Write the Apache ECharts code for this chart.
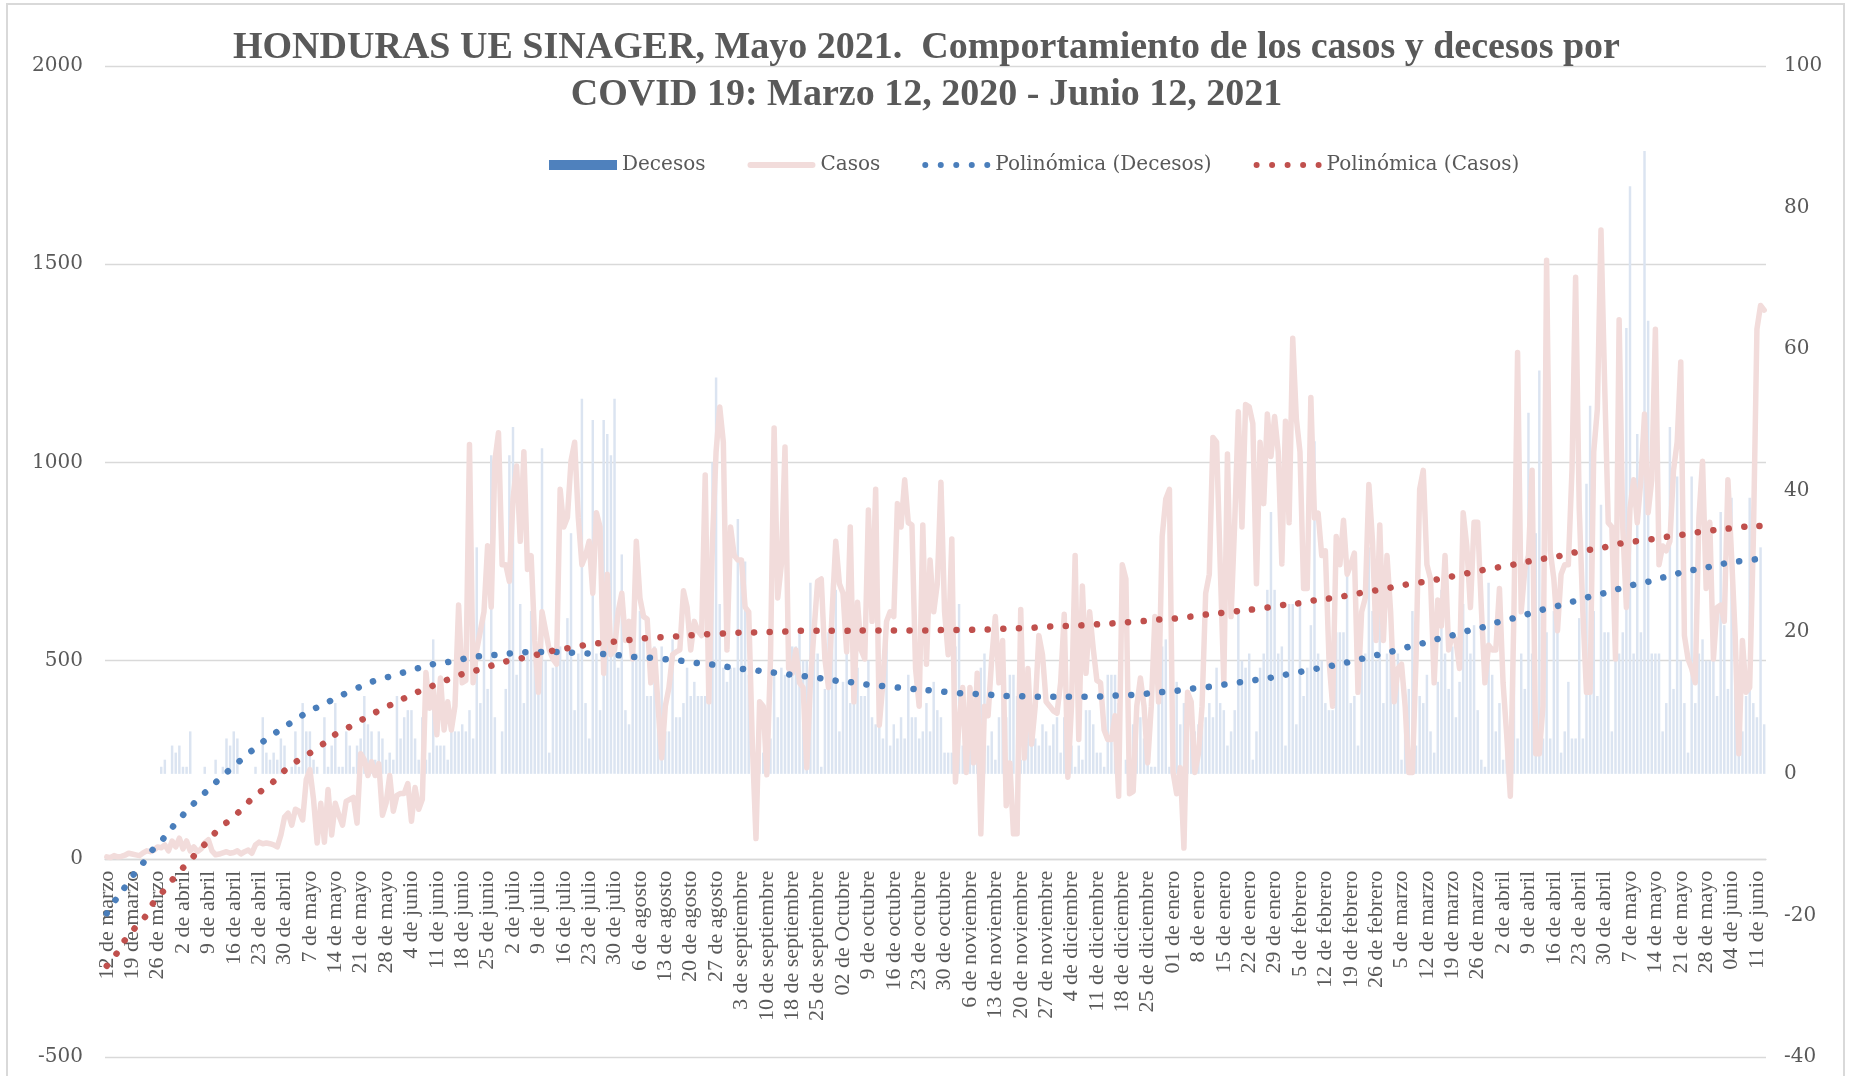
<!DOCTYPE html>
<html>
<head>
<meta charset="utf-8">
<title>Honduras COVID 19</title>
<script src="https://cdn.jsdelivr.net/npm/echarts@6/dist/echarts.min.js"></script>
<style>
  html, body { margin: 0; padding: 0; background: #fff; }
  #chart { width: 1853px; height: 1076px; }
</style>
</head>
<body>
<div id="chart"></div>
<script>
// etiquetas semanales del eje X (una cada 7 días)
var weekLabels = ["12 de marzo", "19 de marzo", "26 de marzo", "2 de abril", "9 de abril", "16 de abril", "23 de abril", "30 de abril",
    "7 de mayo", "14 de mayo", "21 de mayo", "28 de mayo", "4 de junio", "11 de junio", "18 de junio", "25 de junio",
    "2 de julio", "9 de julio", "16 de julio", "23 de julio", "30 de julio", "6 de agosto", "13 de agosto", "20 de agosto",
    "27 de agosto", "3 de septiembre", "10 de septiembre", "18 de septiembre", "25 de septiembre", "02 de Octubre",
    "9 de octubre", "16 de octubre", "23 de octubre", "30 de octubre", "6 de noviembre", "13 de noviembre",
    "20 de noviembre", "27 de noviembre", "4 de diciembre", "11 de diciembre", "18 de diciembre", "25 de diciembre",
    "01 de enero", "8 de enero", "15 de enero", "22 de enero", "29 de enero", "5 de febrero", "12 de febrero",
    "19 de febrero", "26 de febrero", "5 de marzo", "12 de marzo", "19 de marzo", "26 de marzo", "2 de abril",
    "9 de abril", "16 de abril", "23 de abril", "30 de abril", "7 de mayo", "14 de mayo", "21 de mayo", "28 de mayo",
    "04 de junio", "11 de junio"];

// casos diarios (eje izquierdo)
var casos = [
    5, 3, 8, 5, 6, 9, 14, 12, 10, 8, 15, 20, 18, 22,
    30, 28, 35, 20, 45, 30, 52, 25, 45, 20, 30, 18, 25, 40, 48, 20, 10,
    12, 15, 18, 14, 16, 20, 12, 18, 22,
    14, 35, 42, 38, 40, 38, 35, 30, 60, 105,
    115, 85, 125, 120, 98, 200, 225, 150, 40, 140,
    42, 175, 60, 140, 110, 85, 145, 150, 155, 90,
    265, 250, 210, 245, 210, 240, 110, 140, 210, 120,
    160, 165, 165, 190, 95, 180, 125, 150, 470, 380,
    432, 313, 456, 325, 396, 325, 385, 640, 444, 450,
    1045, 444, 527, 575, 623, 790, 635, 1004, 1075, 742,
    742, 700, 908, 991, 801, 1027, 730, 765, 551, 420,
    623, 575, 527, 504, 491, 932, 837, 861, 1004, 1051,
    861, 742, 765, 801, 670, 873, 837, 468, 718, 515,
    527, 623, 670, 551, 599, 504, 801, 658, 611, 605,
    444, 527, 385, 254, 385, 432, 515, 522, 527, 676,
    635, 527, 599, 575, 563, 968, 396, 801, 1027, 1140,
    1051, 527, 837, 765, 754, 754, 635, 623, 289, 51,
    396, 385, 212, 504, 1087, 658, 742, 1039, 480, 468,
    527, 444, 432, 230, 444, 575, 700, 706, 504, 432,
    623, 801, 694, 670, 522, 837, 396, 647, 527, 504,
    880, 599, 932, 337, 444, 599, 623, 611, 896, 837,
    956, 848, 842, 480, 385, 842, 491, 754, 623, 694,
    950, 623, 515, 807, 194, 349, 432, 218, 432, 242,
    468, 63, 385, 361, 504, 611, 444, 551, 134, 242,
    63, 63, 629, 254, 480, 289, 385, 563, 515, 396,
    385, 373, 367, 444, 617, 206, 385, 765, 301, 688,
    468,
    623, 530, 450, 444, 325, 301, 301, 361, 158,
    742, 706, 164, 170, 385, 456, 385, 242, 385, 611,
    396, 813, 908, 932, 218, 164, 230, 27, 420, 396,
    218, 265, 385, 670, 718, 1063, 1051, 742, 444, 1021,
    611, 848, 1128, 837, 1146, 1140, 1098, 694, 1051, 896,
    1122, 1015, 1116, 1027, 744, 1104, 848, 1313, 1110, 1027,
    682, 682, 1164, 860, 872, 765, 777, 504, 385, 813,
    742, 854, 718, 742, 771, 420, 623, 658, 944, 801,
    551, 842, 551, 765, 623, 396, 480, 491, 385, 218,
    218, 504, 932, 980, 742,
    706, 444, 653, 587, 765,
    527, 563, 551, 480, 873, 789, 634, 849, 849, 634,
    444, 539, 527, 527, 682, 444, 313, 158, 623, 1277,
    623, 730, 765, 980, 265, 265, 385, 1510, 777, 706,
    575, 718, 742, 742, 980, 1467, 884, 623, 420, 420,
    1027, 1134, 1586, 1200, 848, 837, 504, 1360, 837, 634,
    884, 956, 848, 956, 1122, 873, 956, 1336, 742, 789,
    777, 801, 980, 1051, 1253, 563, 504, 480, 444, 860,
    1003, 682, 849, 504, 634, 640, 599, 956, 765, 563,
    265, 551, 420, 432, 801, 1336, 1396, 1384
];

// decesos diarios (eje derecho)
var decesos = [
    0, 0, 0, 0, 0, 0, 0, 0, 0, 0, 0, 0, 0, 0, 0,
    1, 2, 0, 4, 3, 4, 1, 1, 6, 0,
    0, 0, 1, 0, 0, 2, 0, 1, 5, 4,
    6, 5, 0, 0, 0, 0, 1, 0, 8, 3,
    2, 3, 2, 5, 4, 0, 1, 6, 1, 10,
    6, 6, 2, 1, 0, 8, 1, 4, 10, 1,
    1, 6, 4, 1, 4, 5, 11, 7, 6, 2,
    6, 5, 2, 3, 2, 11, 5, 8, 9, 9,
    5, 2, 8, 2, 3,
    19, 4, 4, 4, 2, 6, 6, 6, 7, 6,
    9, 5, 32, 10, 24, 12, 45, 8, 0, 6,
    12, 45, 49, 14, 24, 10, 17, 23, 16, 17,
    46, 16, 3, 15, 17, 18, 16, 22, 34, 9,
    17, 53, 10, 5, 50, 17, 9, 50, 48, 45,
    53, 15, 31, 9, 7, 19, 17, 23, 19, 11,
    11, 18, 9, 18, 6, 6, 19, 8, 8, 10,
    15, 11, 13, 11, 11, 11, 16, 44, 56, 24,
    15, 13, 15, 15, 36, 30, 30, 14, 4, 3,
    6, 3, 5, 5, 14, 8, 15, 14, 24, 18,
    18, 20, 16, 16, 27, 17, 17, 1, 12, 20,
    27, 26, 6, 13, 18, 10, 18, 15, 11, 11,
    16, 8, 7, 7, 5, 19, 4, 7, 5, 8,
    5, 14, 8, 8, 5, 6, 10, 6, 13, 9,
    8, 3, 3, 3, 18, 24, 4, 4, 4, 6,
    11, 15, 17, 4, 6, 2, 8, 16, 8, 14,
    14, 11, 2, 2, 11, 4, 5, 4, 7, 6,
    4, 7, 8, 3, 8, 1, 4, 1, 4, 2,
    9,
    9, 7, 3, 3, 1, 14, 14, 14, 10,
    0, 2, 7, 7, 7, 8, 5, 3, 1, 1,
    10, 18, 19, 1, 7, 13, 7, 10, 5, 8,
    6, 7, 7, 8, 10, 8, 15, 10, 9, 4,
    6, 9, 23, 16, 15, 17, 2, 6, 15, 17,
    26, 37, 26, 17, 18, 4, 24, 24, 7, 24,
    11, 15, 21, 47, 17, 16, 10, 9, 9, 20,
    20, 20, 28, 10, 11, 4, 16, 17, 32, 23,
    16, 24, 10, 17, 17, 12, 17, 2, 11, 12,
    23, 4, 11, 10, 14,
    6, 3, 13, 26, 17,
    12, 18, 8, 13, 24, 20, 17, 21, 9, 2,
    1, 27, 14, 6, 10, 2, 5, 2, 20, 5,
    17, 12, 51, 17, 34, 57, 5, 20, 5, 23,
    20, 3, 6, 13, 5, 5, 22, 5, 41, 52,
    23, 11, 38, 20, 20, 6, 17, 17, 20, 63,
    83, 17, 48, 20, 88, 64, 17, 17, 17, 6,
    10, 49, 12, 42, 16, 10, 3, 42, 10, 17,
    19, 16, 16, 17, 11, 37, 21, 12, 39, 16,
    6, 6, 11, 39, 10, 8, 32, 7
];

// línea de tendencia polinómica de decesos: [día, valor]
var tendDecesos = [[0, -19.7], [2, -18.1], [5, -16.0], [7, -14.5], [10, -12.6], [12, -11.1], [15, -9.5], [18, -7.6],
    [20, -6.4], [23, -4.7], [26, -3.2], [29, -1.7], [32, -0.3], [35, 1.1], [38, 2.4], [41, 3.7], [44, 4.9],
    [48, 6.3], [51, 7.3], [55, 8.6], [58, 9.4], [62, 10.4], [66, 11.4], [69, 12.1], [73, 13.0], [77, 13.6],
    [81, 14.2], [85, 14.8], [89, 15.4], [93, 15.7], [97, 16.1], [101, 16.5], [105, 16.7], [109, 16.9],
    [113, 17.1], [117, 17.2], [121, 17.2], [125, 17.2], [129, 17.1], [133, 17.0], [138, 16.9], [142, 16.7],
    [146, 16.5], [150, 16.4], [154, 16.2], [158, 16.0], [162, 15.7], [166, 15.5], [170, 15.2], [174, 14.9],
    [178, 14.7], [182, 14.4], [186, 14.2], [190, 13.9], [194, 13.7], [198, 13.4], [202, 13.1], [206, 12.9],
    [210, 12.6], [214, 12.4], [218, 12.2], [222, 12.0], [227, 11.8], [231, 11.6], [235, 11.4], [239, 11.3],
    [243, 11.2], [247, 11.0], [251, 11.0], [255, 10.9], [259, 10.9], [263, 10.9], [267, 10.9], [272, 10.9],
    [276, 11.0], [280, 11.1], [284, 11.2], [288, 11.4], [292, 11.6], [296, 11.8], [300, 12.1], [304, 12.3],
    [308, 12.6], [312, 12.9], [316, 13.2], [320, 13.5], [324, 13.9], [328, 14.3], [332, 14.7], [336, 15.1],
    [340, 15.5], [344, 16.0], [348, 16.5], [352, 17.0], [356, 17.5], [360, 18.1], [364, 18.6], [368, 19.2],
    [372, 19.7], [376, 20.3], [380, 20.8], [384, 21.5], [388, 22.0], [392, 22.6], [396, 23.2], [400, 23.7],
    [404, 24.3], [408, 24.9], [412, 25.4], [416, 26.0], [420, 26.6], [424, 27.0], [428, 27.6], [432, 28.1],
    [435, 28.6], [440, 29.0], [443, 29.4], [447, 29.8], [451, 30.1], [456, 30.4], [457, 30.5]];

// línea de tendencia polinómica de casos: [día, valor]
var tendCasos = [[0, -270], [3, -235], [5, -205], [8, -172], [11, -141], [13, -109], [16, -77], [19, -43],
    [22, -13], [25, 17], [28, 46], [31, 76], [35, 106], [38, 133], [41, 160], [45, 187], [48, 214], [51, 237],
    [55, 261], [59, 285], [62, 308], [66, 328], [70, 349], [74, 369], [78, 387], [82, 405], [86, 422],
    [90, 437], [94, 452], [98, 466], [103, 478], [107, 490], [111, 500], [116, 509], [120, 518], [124, 527],
    [129, 534], [133, 541], [138, 546], [142, 550], [147, 555], [151, 558], [155, 560], [160, 563],
    [164, 566], [169, 568], [173, 570], [178, 571], [182, 572], [186, 573], [191, 575], [195, 575],
    [200, 575], [204, 575], [209, 576], [213, 576], [218, 576], [222, 576], [227, 576], [231, 577],
    [236, 577], [240, 578], [245, 579], [249, 581], [254, 582], [258, 585], [263, 587], [267, 588],
    [272, 591], [276, 593], [280, 596], [285, 599], [289, 603], [294, 606], [298, 610], [302, 615],
    [307, 620], [311, 624], [316, 629], [320, 634], [324, 640], [329, 645], [333, 652], [338, 658],
    [342, 664], [346, 671], [351, 679], [355, 686], [359, 693], [364, 700], [368, 707], [373, 716],
    [377, 724], [381, 731], [386, 739], [390, 746], [394, 754], [399, 761], [403, 769], [407, 777],
    [412, 784], [416, 793], [420, 799], [425, 805], [429, 811], [434, 817], [438, 823], [442, 828],
    [447, 833], [451, 837], [456, 840], [457, 841]];

// un día por categoría
var dias = casos.map(function (v, i) { return String(i); });

var txt = "#595959";
var grid = "#d9d9d9";

// iconos de leyenda: línea gruesa y cinco puntos
var iconLinea = "path://M3,0L65,0A3,3,0,0,1,65,6L3,6A3,3,0,0,1,3,0Z";
var iconPuntos = "path://M0,3a3,3,0,1,0,6,0a3,3,0,1,0,-6,0Z" +
    "M15.5,3a3,3,0,1,0,6,0a3,3,0,1,0,-6,0Z" +
    "M31,3a3,3,0,1,0,6,0a3,3,0,1,0,-6,0Z" +
    "M46.5,3a3,3,0,1,0,6,0a3,3,0,1,0,-6,0Z" +
    "M62,3a3,3,0,1,0,6,0a3,3,0,1,0,-6,0Z";

// área de trazado y desplazamiento del eje X hasta el 0 del eje izquierdo
var gridTop = 66, gridBottom = 19;
var plotH = 1076 - gridTop - gridBottom;
var ejeXOffset = -plotH * 500 / 2500;

var myChart = echarts.init(document.getElementById("chart"));
var option = {
    animation: false,
    backgroundColor: "#fff",
    title: {
        text: "HONDURAS UE SINAGER, Mayo 2021.  Comportamiento de los casos y decesos por\nCOVID 19: Marzo 12, 2020 - Junio 12, 2021",
        left: "center",
        top: 20,
        textStyle: {
            fontFamily: "Liberation Serif",
            fontWeight: "bold",
            fontSize: 38,
            lineHeight: 47,
            color: txt
        }
    },
    legend: {
        left: 544,
        top: 150,
        itemWidth: 68,
        itemHeight: 10,
        itemGap: 42,
        textStyle: { fontFamily: "DejaVu Serif", fontSize: 20, color: txt },
        data: [
            { name: "Decesos", icon: "rect", itemStyle: { color: "#4f81bd" } },
            { name: "Casos", icon: iconLinea, itemStyle: { color: "#f2dcdb" } },
            { name: "Polinómica (Decesos)", icon: iconPuntos, itemStyle: { color: "#4a7ebb" } },
            { name: "Polinómica (Casos)", icon: iconPuntos, itemStyle: { color: "#c0504d" } }
        ]
    },
    grid: { left: 105, right: 87, top: gridTop, bottom: gridBottom, containLabel: false, outerBoundsMode: "none" },
    xAxis: {
        type: "category",
        data: dias,
        position: "bottom",
        offset: ejeXOffset,
        axisLine: { onZero: false, lineStyle: { color: grid, width: 1.3 } },
        axisTick: { show: false },
        axisLabel: {
            interval: 6,
            rotate: 90,
            margin: 12,
            fontFamily: "Liberation Serif",
            fontSize: 22,
            color: txt,
            formatter: function (v, idx) {
                return weekLabels[idx / 7] || "";
            }
        }
    },
    yAxis: [
        {
            type: "value",
            min: -500,
            max: 2000,
            interval: 500,
            position: "left",
            axisLine: { show: false },
            axisTick: { show: false },
            splitLine: { lineStyle: { color: grid, width: 1.3 } },
            axisLabel: {
                fontFamily: "DejaVu Serif", fontSize: 20, color: txt, margin: 22,
                formatter: function (v) { return String(v); }
            }
        },
        {
            type: "value",
            min: -40,
            max: 100,
            interval: 20,
            position: "right",
            axisLine: { show: false },
            axisTick: { show: false },
            splitLine: { show: false },
            axisLabel: {
                fontFamily: "DejaVu Serif", fontSize: 20, color: txt, margin: 18,
                formatter: function (v) { return String(v); }
            }
        }
    ],
    series: [
        {
            name: "Decesos",
            type: "bar",
            yAxisIndex: 1,
            data: decesos,
            barCategoryGap: "32%",
            itemStyle: { color: "#dbe4f1" }
        },
        {
            name: "Casos",
            type: "line",
            yAxisIndex: 0,
            data: casos,
            symbol: "none",
            itemStyle: { color: "#f2dcdb" },
            lineStyle: { color: "#f2dcdb", width: 5.5, join: "round", cap: "round" }
        },
        {
            name: "Polinómica (Decesos)",
            type: "line",
            yAxisIndex: 1,
            data: tendDecesos,
            smooth: true,
            symbol: "none",
            itemStyle: { color: "#4a7ebb" },
            lineStyle: { color: "#4a7ebb", width: 6.5, type: [0.1, 15.5], cap: "round" }
        },
        {
            name: "Polinómica (Casos)",
            type: "line",
            yAxisIndex: 0,
            data: tendCasos,
            smooth: true,
            symbol: "none",
            itemStyle: { color: "#c0504d" },
            lineStyle: { color: "#c0504d", width: 6.5, type: [0.1, 15.5], cap: "round" }
        }
    ],
    graphic: [{
        type: "rect",
        silent: true,
        shape: { x: 7, y: 4, width: 1837, height: 1090 },
        style: { fill: "none", stroke: grid, lineWidth: 2 }
    }]
};
myChart.setOption(option);
</script>
</body>
</html>
